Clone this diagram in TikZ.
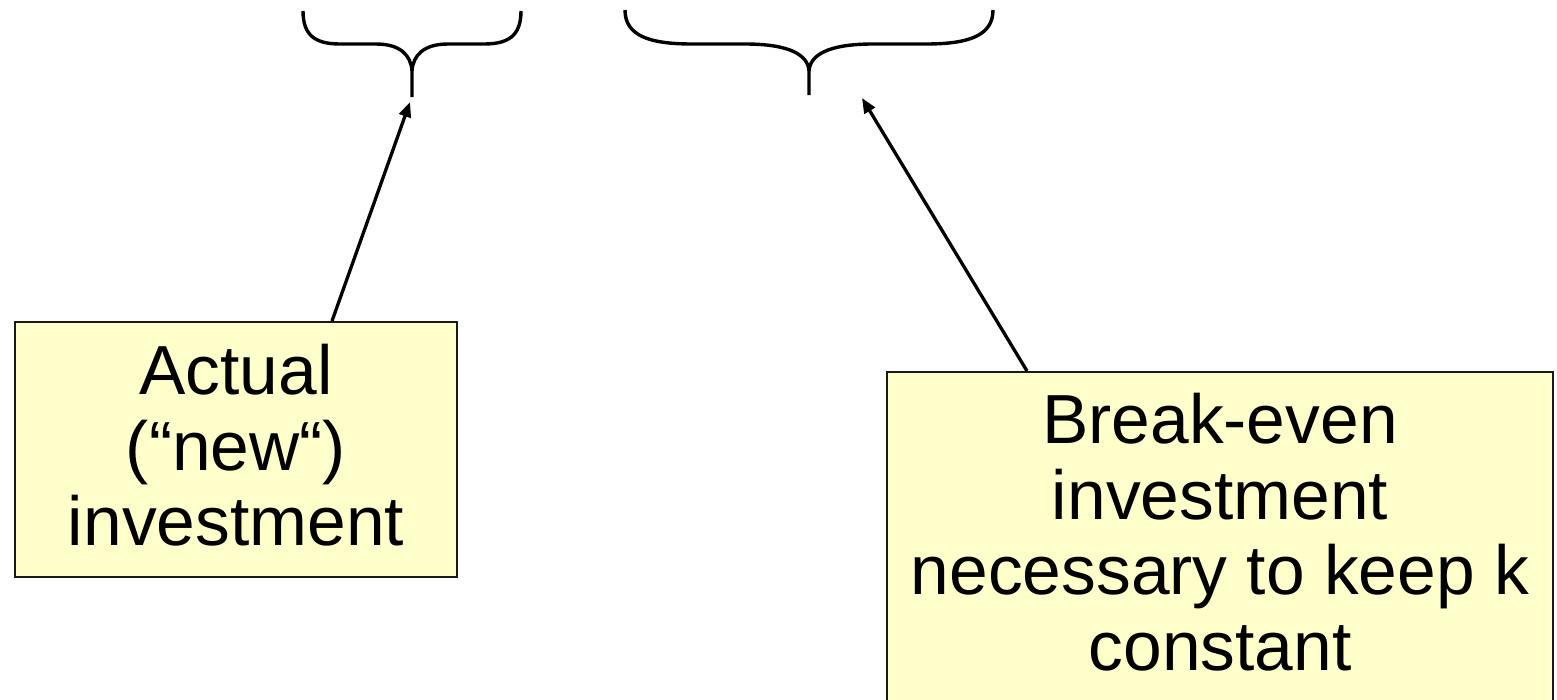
\documentclass[tikz,border=0pt]{standalone}
\usepackage{fontspec}
\setmainfont{Liberation Sans}
\usetikzlibrary{arrows.meta,calc}
\definecolor{noteyellow}{HTML}{FFFFCC}
\definecolor{noteborder}{HTML}{1A1A1A}
\tikzset{
  notebox/.style={draw=noteborder, line width=2pt, fill=noteyellow, inner sep=0pt},
  notetext/.style={align=center, inner sep=0pt, text=black, font=\fontsize{69.5}{75.5}\selectfont},
  pointer/.style={line width=3.3pt, -{Triangle[length=15pt,width=12pt]}},
  bracecurve/.style={line width=3.4pt, line cap=butt}
}
\begin{document}
\begin{tikzpicture}[x=1pt,y=-1pt]
\useasboundingbox (0,0) rectangle (1557,699);
\clip (0,0) rectangle (1557,699);
\fill[white] (0,0) rectangle (1557,699);

% left brace
\draw[bracecurve] (303,11) .. controls (303,36) and (316,44) .. (340,44) -- (376,44)
  .. controls (400,44) and (411,55) .. (412,71) -- (412,97);
\draw[bracecurve] (521,11) .. controls (521,36) and (508,44) .. (484,44) -- (448,44)
  .. controls (424,44) and (413,55) .. (412,71);
\coordinate (ltip) at (410,102);

% right brace
\draw[bracecurve] (625,10) .. controls (625,36) and (650,44) .. (692,44) -- (745,44)
  .. controls (790,44) and (808,55) .. (809,71) -- (809,95);
\draw[bracecurve] (993,10) .. controls (993,36) and (968,44) .. (926,44) -- (873,44)
  .. controls (828,44) and (810,55) .. (809,71);
\coordinate (rtip) at (862,98);

% left box
\node[notebox, minimum width=442pt, minimum height=255pt] (abox) at (236,449.5) {};
\node[notetext, anchor=north] (atext) at (236,344.2)
  {Actual\\(“new“)\\investment};

% right box
\node[notebox, minimum width=666pt, minimum height=380pt, anchor=north west] (bbox) at (886,371) {};
\node[notetext, anchor=north] (btext) at (1220,393.2)
  {Break-even\\investment\\necessary to keep k\\constant};

% pointers
\draw[pointer] ($(abox.north west)+(318,0)$) -- (ltip);
\draw[pointer] ($(bbox.north west)+(141,0)$) -- (rtip);
\end{tikzpicture}
\end{document}
